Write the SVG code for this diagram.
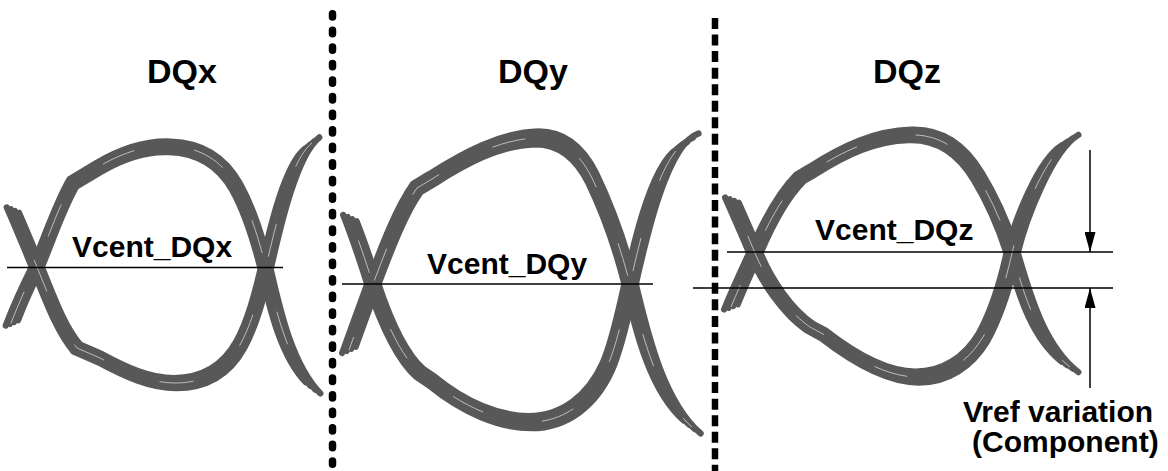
<svg xmlns="http://www.w3.org/2000/svg" xmlns:xlink="http://www.w3.org/1999/xlink" width="1168" height="471" viewBox="0 0 1168 471">
<style>
.band{fill:none;stroke:#585858;stroke-width:6;stroke-linecap:round;stroke-linejoin:round}
.gap{fill:none;stroke:#ffffff;stroke-width:0.8;stroke-opacity:0.75;stroke-dasharray:34 60}
.ref{stroke:#000;stroke-width:1.3;fill:none}
.title{font-family:"Liberation Sans",Arial,sans-serif;font-weight:bold;font-size:34px;fill:#000}
.lbl{font-family:"Liberation Sans",Arial,sans-serif;font-weight:bold;font-size:30px;fill:#000}
.dots{stroke:#000;stroke-width:7.5;stroke-linecap:round;stroke-dasharray:3.3 13.26;fill:none}
.dash{stroke:#000;stroke-width:6.5;stroke-linecap:butt;stroke-dasharray:11 5.55;fill:none}
.arr{stroke:#000;stroke-width:1.5;fill:none}
</style>
<defs>
<path id="xu" d="M12,323 C20,302 29,283 37,267 C49,238 60,205 73,183 L98,168 C125,152 148,146 170,147 C200,148 222,162 236,187 C250,212 258,240 265,267 C273,300 284,358 313,388"/>
<path id="xl" d="M13,210 C21,228 29,248 37,267 C49,296 60,328 77,348 L100,358 C126,372 150,383 175,383 C205,383 226,370 240,345 C252,323 259,296 266,267 C274,232 290,160 312,143"/>
<path id="yu" d="M349,350 C357,328 366,303 373,284 C386,250 400,212 417,188 L432,179 C465,158 500,139 537,138 C560,138 578,150 592,178 C606,207 620,245 630,284 C640,325 655,395 692,427"/>
<path id="yl" d="M350,218 C358,238 366,262 373,284 C385,320 400,355 420,373 L432,381 C465,408 500,422 530,422 C565,422 592,400 607,367 C617,345 624,310 630,284 C640,240 660,150 690,140"/>
<path id="zu" d="M731,307 C738,290 747,270 755,253 C767,225 783,195 800,178 L812,171 C845,150 875,136 910,135 C940,134 962,150 978,177 C992,200 1003,225 1012,253 C1022,285 1035,340 1070,367"/>
<path id="zl" d="M732,200 C740,218 748,236 755,253 C767,282 788,312 810,327 L823,334 C850,355 885,377 917,377 C945,377 968,362 983,337 C995,315 1005,285 1012,253 C1020,220 1045,155 1070,140"/>
<marker id="ah" viewBox="0 0 20 11" refX="20" refY="5.5" markerWidth="20" markerHeight="11" markerUnits="userSpaceOnUse" orient="auto">
<path d="M0,0 L20,5.5 L0,11 Z" fill="#000"/>
</marker>
</defs>

<g id="dividers">
<line class="dots" x1="332.5" y1="13.8" x2="332.5" y2="471"/>
<line class="dash" x1="715" y1="18" x2="715" y2="471"/>
</g>

<g id="eye-DQx">
<text class="title" x="147" y="83">DQx</text>
<use href="#xu" class="band" transform="matrix(0.955,0,0,0.955,6.795,12.015)"/>
<use href="#xu" class="band" transform="matrix(0.985,0,0,0.985,2.265,4.005)"/>
<use href="#xu" class="band" transform="matrix(1.015,0,0,1.015,-2.265,-4.005)"/>
<use href="#xu" class="band" transform="matrix(1.045,0,0,1.045,-6.795,-12.015)"/>
<use href="#xl" class="band" transform="matrix(0.955,0,0,0.955,6.795,12.015)"/>
<use href="#xl" class="band" transform="matrix(0.985,0,0,0.985,2.265,4.005)"/>
<use href="#xl" class="band" transform="matrix(1.015,0,0,1.015,-2.265,-4.005)"/>
<use href="#xl" class="band" transform="matrix(1.045,0,0,1.045,-6.795,-12.015)"/>
<use href="#xu" class="gap" transform="matrix(1.008,0,0,1.008,-1.208,-2.136)"/>
<use href="#xl" class="gap" style="stroke-dashoffset:40"/>
<line class="ref" x1="7" y1="267.5" x2="283" y2="267.5"/>
<text class="lbl" x="72" y="257">Vcent_DQx</text>
</g>

<g id="eye-DQy">
<text class="title" x="498" y="83">DQy</text>
<use href="#yu" class="band" transform="matrix(0.955,0,0,0.955,22.545,12.78)"/>
<use href="#yu" class="band" transform="matrix(0.985,0,0,0.985,7.515,4.26)"/>
<use href="#yu" class="band" transform="matrix(1.015,0,0,1.015,-7.515,-4.26)"/>
<use href="#yu" class="band" transform="matrix(1.045,0,0,1.045,-22.545,-12.78)"/>
<use href="#yl" class="band" transform="matrix(0.955,0,0,0.955,22.545,12.78)"/>
<use href="#yl" class="band" transform="matrix(0.985,0,0,0.985,7.515,4.26)"/>
<use href="#yl" class="band" transform="matrix(1.015,0,0,1.015,-7.515,-4.26)"/>
<use href="#yl" class="band" transform="matrix(1.045,0,0,1.045,-22.545,-12.78)"/>
<use href="#yu" class="gap" style="stroke-dashoffset:20"/>
<use href="#yl" class="gap" style="stroke-dashoffset:70"/>
<line class="ref" x1="342" y1="284" x2="653" y2="284"/>
<text class="lbl" x="427" y="274">Vcent_DQy</text>
</g>

<g id="eye-DQz">
<text class="title" x="873" y="83">DQz</text>
<use href="#zu" class="band" transform="matrix(0.955,0,0,0.955,39.78,11.385)"/>
<use href="#zu" class="band" transform="matrix(0.985,0,0,0.985,13.26,3.795)"/>
<use href="#zu" class="band" transform="matrix(1.015,0,0,1.015,-13.26,-3.795)"/>
<use href="#zu" class="band" transform="matrix(1.045,0,0,1.045,-39.78,-11.385)"/>
<use href="#zl" class="band" transform="matrix(0.955,0,0,0.955,39.78,11.385)"/>
<use href="#zl" class="band" transform="matrix(0.985,0,0,0.985,13.26,3.795)"/>
<use href="#zl" class="band" transform="matrix(1.015,0,0,1.015,-13.26,-3.795)"/>
<use href="#zl" class="band" transform="matrix(1.045,0,0,1.045,-39.78,-11.385)"/>
<use href="#zu" class="gap" style="stroke-dashoffset:10"/>
<use href="#zl" class="gap" style="stroke-dashoffset:55"/>
<line class="ref" x1="727" y1="252" x2="1113" y2="252"/>
<line class="ref" x1="693" y1="288" x2="1113" y2="288"/>
<text class="lbl" x="815" y="240">Vcent_DQz</text>
</g>

<g id="connectors">
<line class="arr" x1="1090" y1="150" x2="1090" y2="252" marker-end="url(#ah)"/>
<line class="arr" x1="1090" y1="388" x2="1090" y2="288" marker-end="url(#ah)"/>
</g>

<g id="vref-label">
<text class="lbl" x="963" y="422">Vref variation</text>
<text class="lbl" x="972" y="452">(Component)</text>
</g>
</svg>
